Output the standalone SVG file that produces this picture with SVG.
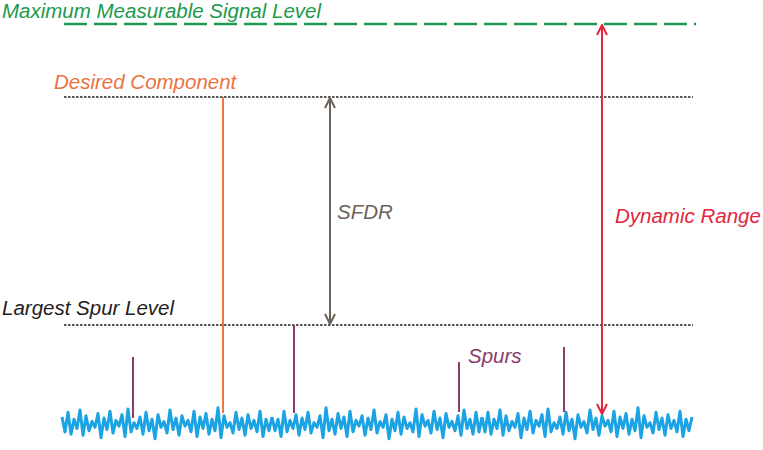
<svg xmlns="http://www.w3.org/2000/svg" xmlns:xlink="http://www.w3.org/1999/xlink" width="763" height="450" viewBox="0 0 763 450">
<style>
text{font-family:"Liberation Sans",Arial,sans-serif;font-style:italic;font-size:20.5px}
.dot{stroke:#222;stroke-width:1.4;stroke-dasharray:2.5 1.5;fill:none}
.spur{stroke:#8b3c6d;stroke-width:2;fill:none}
.noise{stroke:#1ba3e3;stroke-width:3;fill:none;stroke-linejoin:round;vector-effect:non-scaling-stroke}
</style>
<defs>
<marker id="gh" viewBox="0 0 12 12" refX="11" refY="6" markerWidth="12" markerHeight="12" markerUnits="userSpaceOnUse" orient="auto-start-reverse">
<path d="M1,1 L11,6 L1,11" fill="none" stroke="#6b625a" stroke-width="2"/>
</marker>
<marker id="rh" viewBox="0 0 12 12" refX="11" refY="6" markerWidth="12" markerHeight="12" markerUnits="userSpaceOnUse" orient="auto-start-reverse">
<path d="M1,1 L11,6 L1,11" fill="none" stroke="#e2263c" stroke-width="2"/>
</marker>
<polyline id="nz" class="noise" points="0,418 3,431 6,414 9,433 12,420 15,428 18,412 21,434 24,417 27,430 30,422 33,427 36,415 39,436 42,419 45,429 48,413 51,432 54,421 57,426 60,416 63,435 66,411 69,431 72,423 75,428 78,418 81,433 84,414 87,430 90,420 93,437 96,416 99,427 102,422 105,432 108,412 111,429 114,419 117,434 120,417 123,426 126,421 129,431 132,413 135,435 138,418 141,428 144,415 147,433 150,420 153,430 156,410 159,436 162,417 165,427 168,423 171,432 174,414 177,429 180,419 183,434 186,416 189,428 192,421 195,431 198,413 201,435 204,420 207,430 210,418"/>
</defs>
<g id="noise">
<use xlink:href="#nz" transform="matrix(1,0,0,1.15,62,-63.75)"/>
<use xlink:href="#nz" transform="matrix(-1,0,0,1.15,482,-63.75)"/>
<use xlink:href="#nz" transform="matrix(1,0,0,1.15,482,-63.75)"/>
</g>
<g id="levels">
<line x1="64" y1="24" x2="696" y2="24" stroke="#1f9a55" stroke-width="2.5" stroke-dasharray="23 7"/>
<line class="dot" x1="64" y1="97" x2="693" y2="97"/>
<line class="dot" x1="64" y1="325" x2="693" y2="325"/>
</g>
<g id="connectors">
<line x1="330" y1="98" x2="330" y2="324" stroke="#6b625a" stroke-width="2" marker-start="url(#gh)" marker-end="url(#gh)"/>
<line x1="602" y1="25" x2="602" y2="414" stroke="#e2263c" stroke-width="2" marker-start="url(#rh)" marker-end="url(#rh)"/>
</g>
<g id="desired">
<line x1="223" y1="97" x2="223" y2="413" stroke="#ee7840" stroke-width="2"/>
</g>
<g id="spurs">
<line class="spur" x1="133" y1="357" x2="133" y2="418"/>
<line class="spur" x1="294" y1="325" x2="294" y2="413"/>
<line class="spur" x1="459" y1="362" x2="459" y2="412"/>
<line class="spur" x1="564" y1="347" x2="564" y2="412"/>
</g>
<g id="labels">
<text x="2" y="18" fill="#1c9a4e">Maximum Measurable Signal Level</text>
<text x="54" y="89" fill="#ea7341">Desired Component</text>
<text x="2" y="315" fill="#222">Largest Spur Level</text>
<text x="337" y="219" fill="#6b625a">SFDR</text>
<text x="615" y="223" fill="#e2263c">Dynamic Range</text>
<text x="468" y="363" fill="#8b3c6d">Spurs</text>
</g>
</svg>
